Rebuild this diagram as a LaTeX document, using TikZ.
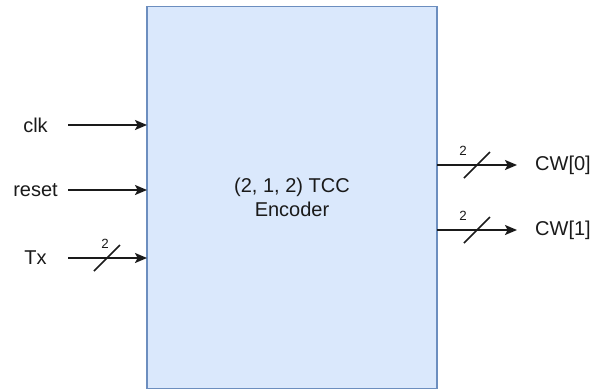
\documentclass[tikz,border=0pt]{standalone}
\usepackage{fontspec}
\setmainfont{Liberation Sans}
\usepackage{tikz}
\usetikzlibrary{arrows.meta,positioning,calc}
\definecolor{boxfill}{HTML}{DAE8FC}
\definecolor{boxline}{HTML}{6C8EBF}
\definecolor{ink}{HTML}{1A1A1A}
\tikzset{
  block/.style={draw=boxline,fill=boxfill,line width=1.1pt,inner sep=0pt,outer sep=0pt,minimum width=217.5pt,minimum height=286.5pt,align=center,text=ink,font=\fontsize{15}{18}\selectfont},
  sig/.style={inner sep=0pt,outer sep=0pt,align=center,text=ink,font=\fontsize{15}{18}\selectfont},
  wire/.style={-{Stealth[length=9pt,width=7.5pt,inset=2pt]},line width=1.2pt,color=ink},
  slash/.style={line width=1.2pt,color=ink},
  width/.style={inner sep=0pt,text=ink,font=\fontsize{10}{12}\selectfont},
}
\newcommand{\busmark}[3]{%
  \draw[slash] ($(#1)+(-13,13)$) -- ($(#1)+(13,-13)$);
  \node[width] at ($(#1)+(#2,-14)$) {#3};
}

\begin{document}
\begin{tikzpicture}[x=0.75pt,y=-0.75pt]
    \useasboundingbox (0,0) rectangle (601,390);
    \node[block] (enc) at (292,197.5) {(2, 1, 2) TCC\\Encoder};
    % inputs
    \node[sig,minimum width=48.75pt] (clk) at (35.5,125) {clk};
    \node[sig,minimum width=48.75pt] (reset) at (35.5,190) {reset};
    \node[sig,minimum width=48.75pt] (tx) at (35.5,258) {Tx};
    \draw[wire] (clk.east) -- (clk.east -| enc.west);
    \draw[wire] (reset.east) -- (reset.east -| enc.west);
    \draw[wire] (tx.east) -- (tx.east -| enc.west);
    \coordinate (txbus) at (107,258);
    \busmark{txbus}{-2}{2}
    % outputs
    \node[sig,minimum width=69pt,anchor=west] (cw0) at (517,165) {CW[0]};
    \node[sig,minimum width=69pt,anchor=west] (cw1) at (517,230) {CW[1]};
    \draw[wire] (enc.east |- cw0.west) -- (cw0.west);
    \draw[wire] (enc.east |- cw1.west) -- (cw1.west);
    \coordinate (cw0bus) at (477,165);
    \coordinate (cw1bus) at (477,230);
    \busmark{cw0bus}{-14}{2}
    \busmark{cw1bus}{-14}{2}
  \end{tikzpicture}
\end{document}
